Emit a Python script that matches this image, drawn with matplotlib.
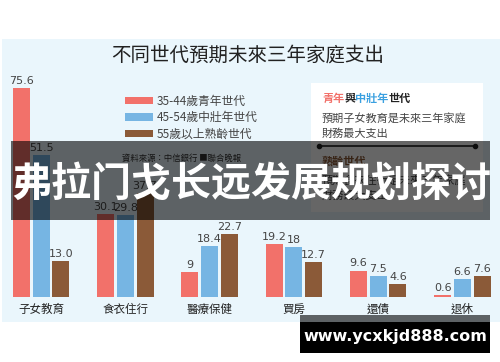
import matplotlib.pyplot as plt
from matplotlib.patches import Rectangle
from matplotlib.lines import Line2D
from matplotlib.offsetbox import TextArea, HPacker, AnchoredOffsetbox
import numpy as np

plt.rcParams['font.family'] = ['Noto Sans CJK TC', 'DejaVu Sans']

categories = ["子女教育", "食衣住行", "醫療保健", "買房", "還債", "退休"]
series_names = ["35-44歲青年世代", "45-54歲中壯年世代", "55歲以上熟齡世代"]
young = [75.6, 30.1, 9, 19.2, 9.6, 0.6]
middle = [51.5, 29.8, 18.4, 18, 7.5, 6.6]
senior = [13.0, 37.7, 22.7, 12.7, 4.6, 7.6]
young_lbl = ["75.6", "30.1", "9", "19.2", "9.6", "0.6"]
middle_lbl = ["51.5", "29.8", "18.4", "18", "7.5", "6.6"]
senior_lbl = ["13.0", "37.7", "22.7", "12.7", "4.6", "7.6"]
colors = ["#f2716a", "#76b5e3", "#8b5a38"]

W, H = 500, 362
fig = plt.figure(figsize=(W / 100, H / 100), dpi=100)
fig.patch.set_facecolor("white")


def fx(px):
    return px / W


def fy(py):
    return 1 - py / H


def rect(x0, y0, x1, y1, **kw):
    fig.add_artist(Rectangle((fx(x0), fy(y1)), fx(x1) - fx(x0), fy(y0) - fy(y1),
                             transform=fig.transFigure, **kw))


# light blue panel
rect(2, 39, 500, 322, facecolor="#eaf6fc", edgecolor="none", zorder=0)

# bar axes
ax = fig.add_axes([fx(2), fy(297), fx(498) - fx(2), fy(39) - fy(297)])
ax.set_facecolor("none")
ax.set_xlim((2 - 41) / 84.3, (498 - 41) / 84.3)
ax.set_ylim(0, (297 - 39) / 2.76)
x = np.arange(len(categories))
off = 19.7 / 84.3
bw = 17 / 84.3
bars = []
for i, (vals, lbls) in enumerate(zip([young, middle, senior],
                                     [young_lbl, middle_lbl, senior_lbl])):
    xs = x + (i - 1) * off
    b = ax.bar(xs, vals, width=bw, color=colors[i], label=series_names[i])
    bars.append(b)
    for xx, v, t in zip(xs, vals, lbls):
        ax.annotate(t, (xx, v), xytext=(0, 1.5), textcoords="offset points",
                    ha="center", va="bottom", fontsize=8, color="#444444",
                    family=["DejaVu Sans"])
for s in ax.spines.values():
    s.set_visible(False)
ax.set_yticks([])
ax.set_xticks(x)
ax.set_xticklabels(categories, fontsize=8.3, color="#222222")
ax.tick_params(axis="x", length=0, pad=4)

# title
fig.text(fx(248), fy(55), "不同世代預期未來三年家庭支出", ha="center", va="center",
         fontsize=14, color="#222222")

# legend
fig.legend(handles=bars, labels=series_names, loc="upper left",
           bbox_to_anchor=(fx(114), fy(84)), frameon=False, fontsize=8.5,
           handlelength=2.4, handleheight=0.55, handletextpad=0.3,
           labelspacing=0.3, labelcolor="#444444")

# source
fig.text(fx(122), fy(158), "資料來源：中信銀行 ■聯合晚報", ha="left", va="center",
         fontsize=6, color="#333333")

# right info box
rect(311, 83, 483, 212, facecolor="white", edgecolor="none", zorder=1)
parts = [("青年", "#f2716a"), ("與", "#222222"), ("中壯年", "#3aa0e0"), ("世代", "#222222")]
areas = [TextArea(s, textprops=dict(color=c, fontsize=8, weight="bold")) for s, c in parts]
head = HPacker(children=areas, align="center", pad=0, sep=0)
anch = AnchoredOffsetbox(loc="center left", child=head, pad=0, frameon=False,
                         bbox_to_anchor=(fx(322), fy(98)), bbox_transform=fig.transFigure,
                         borderpad=0)
anch.set_zorder(2)
fig.add_artist(anch)
fig.text(fx(322), fy(118), "預期子女教育是未來三年家庭", ha="left", va="center",
         fontsize=8, color="#444444", zorder=2)
fig.text(fx(322), fy(134), "財務最大支出", ha="left", va="center",
         fontsize=8, color="#444444", zorder=2)
fig.add_artist(Line2D([fx(319), fx(475)], [fy(146), fy(146)], transform=fig.transFigure,
                      color="#222222", lw=1.2, marker="o", markersize=3, zorder=2))
fig.text(fx(322), fy(161), "熟齡世代", ha="left", va="center", fontsize=8,
         color="#8b5a38", weight="bold", zorder=2)
fig.text(fx(322), fy(180), "預期食衣住行是未來三年家庭", ha="left", va="center",
         fontsize=8, color="#444444", zorder=2)
fig.text(fx(322), fy(196), "財務最大支出", ha="left", va="center",
         fontsize=8, color="#444444", zorder=2)

# banner overlay
rect(11, 141, 490, 220, facecolor="black", alpha=0.6, edgecolor="none", zorder=5)
fig.text(fx(251), fy(184), "弗拉门戈长远发展规划探讨", ha="center", va="center",
         fontsize=28.8, color="white", weight="bold", zorder=6,
         family=["Noto Sans CJK SC", "DejaVu Sans"])

# watermark
rect(300, 315, 490, 322, facecolor="black", alpha=0.6, edgecolor="none", zorder=5)
rect(300, 322, 490, 353, facecolor="black", edgecolor="none", zorder=5)
fig.text(fx(395), fy(336), "www.ycxkjd888.com", ha="center", va="center",
         fontsize=11.5, color="white", weight="bold", zorder=6,
         family=["DejaVu Sans"])

fig.savefig("out.png", dpi=100)
